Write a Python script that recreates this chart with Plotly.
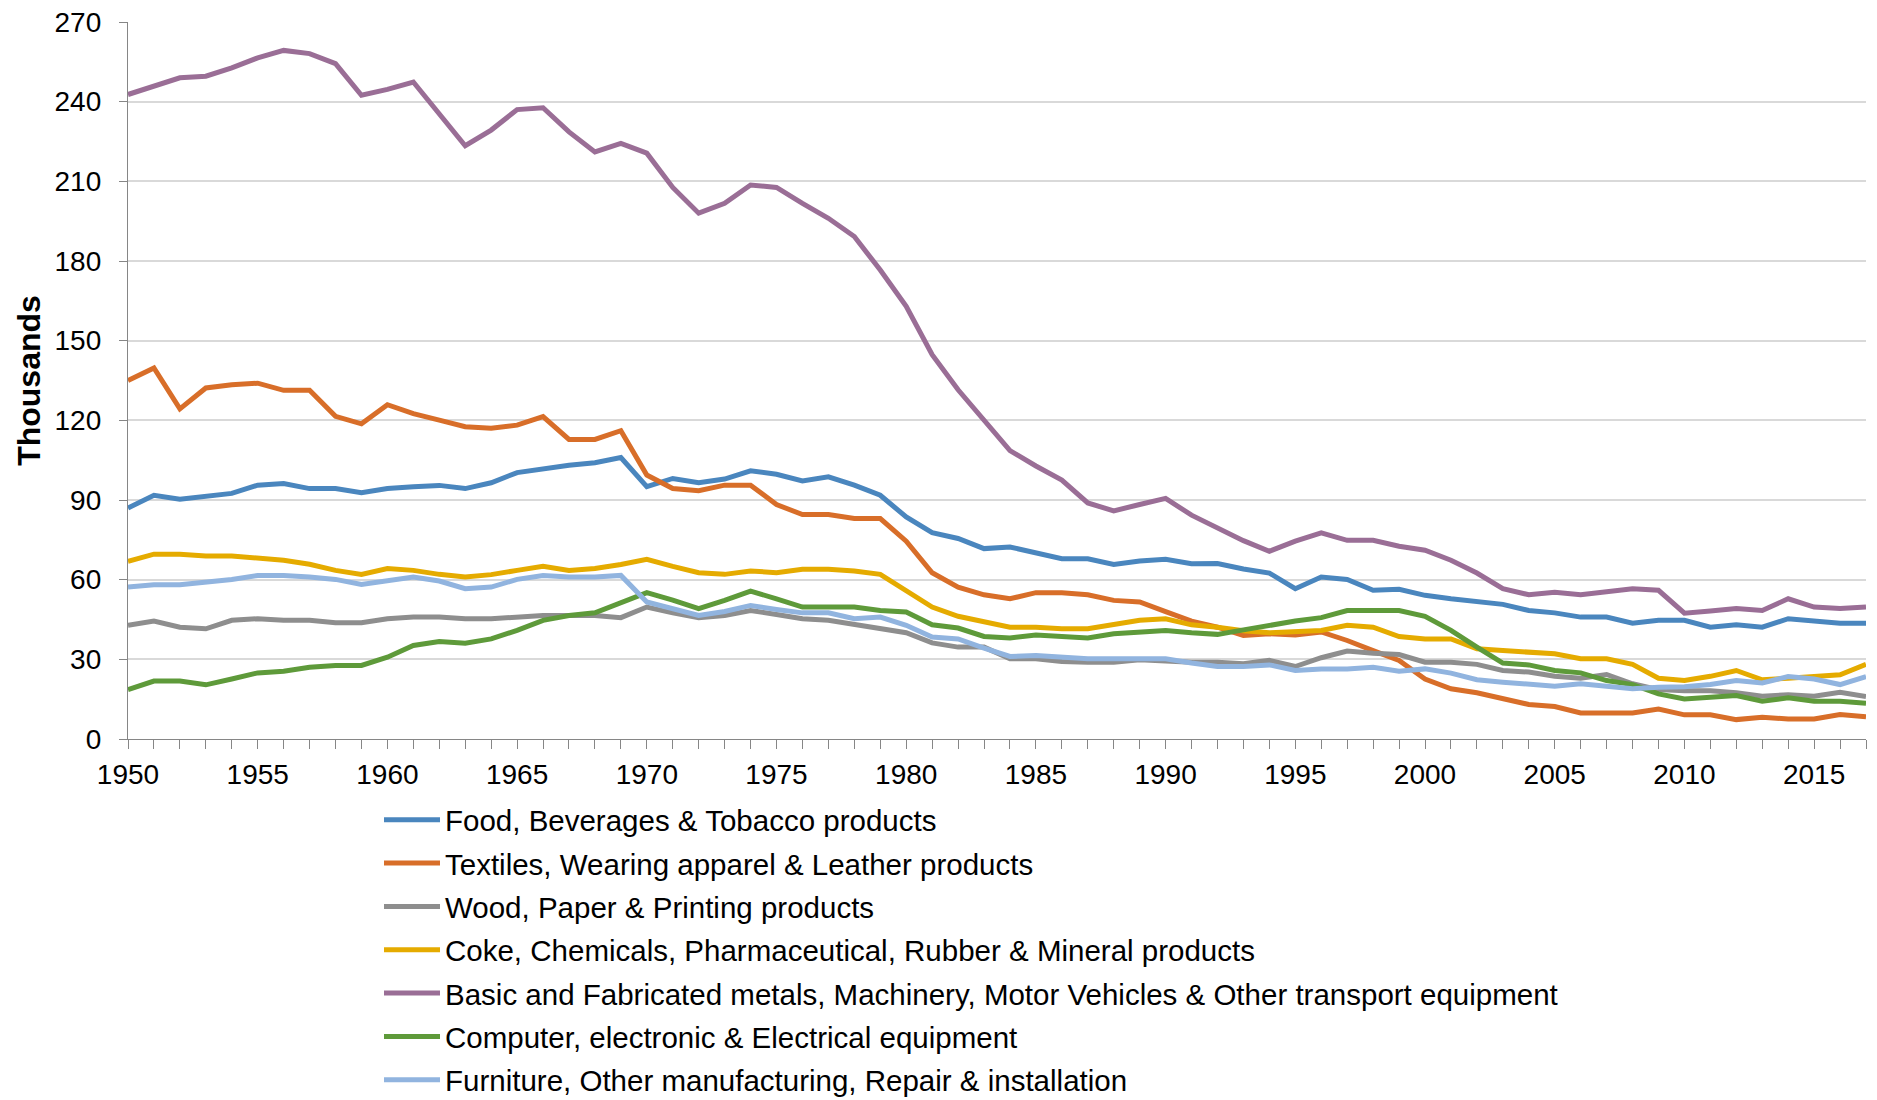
import plotly.graph_objects as go

years = list(range(1950, 2018))

food = [87.0, 91.8, 90.3, 91.2, 92.5, 95.6, 96.2, 94.3, 94.3, 92.7,
        94.3, 95.0, 95.5, 94.3, 96.5, 100.3, 101.9, 103.1, 104.0, 106.0,
        95.0, 98.1, 96.5, 97.9, 101.0, 99.7, 97.2, 98.7, 95.6, 91.8,
        83.6, 77.7, 75.5, 71.7, 72.3, 70.2, 67.9, 67.9, 65.7, 67.0,
        67.7, 66.0, 66.1, 64.0, 62.5, 56.6, 61.0, 60.1, 56.0, 56.4,
        54.1, 52.8, 51.6, 50.7, 48.4, 47.5, 45.9, 45.9, 43.6, 44.7,
        44.7, 42.1, 43.0, 42.1, 45.3, 44.4, 43.6, 43.6]

textiles = [135.0, 139.7, 124.3, 132.2, 133.4, 134.0, 131.3, 131.3, 121.5, 118.7,
            125.9, 122.5, 120.1, 117.6, 117.0, 118.2, 121.4, 112.8, 112.8, 116.1,
            99.4, 94.3, 93.5, 95.6, 95.6, 88.3, 84.5, 84.5, 83.0, 83.0,
            74.5, 62.6, 57.2, 54.3, 52.8, 55.1, 55.1, 54.3, 52.2, 51.6,
            48.0, 44.4, 42.1, 39.0, 39.6, 39.2, 40.3, 37.1, 33.3, 29.6,
            22.6, 18.9, 17.4, 15.1, 13.0, 12.2, 9.8, 9.8, 9.8, 11.3,
            9.1, 9.1, 7.3, 8.2, 7.5, 7.5, 9.2, 8.4]

wood = [42.8, 44.4, 42.1, 41.5, 44.7, 45.3, 44.7, 44.7, 43.8, 43.8,
        45.3, 45.9, 45.9, 45.3, 45.3, 45.9, 46.5, 46.5, 46.5, 45.7,
        49.7, 47.5, 45.7, 46.5, 48.4, 46.9, 45.3, 44.7, 43.1, 41.5,
        40.0, 36.2, 34.6, 34.6, 30.2, 30.2, 29.2, 28.9, 28.9, 29.8,
        29.2, 28.9, 28.9, 28.3, 29.6, 27.3, 30.6, 33.1, 32.3, 31.8,
        28.9, 28.9, 28.1, 25.8, 25.2, 23.6, 22.9, 24.3, 20.8, 18.6,
        18.2, 18.2, 17.4, 16.1, 16.7, 16.1, 17.6, 16.0]

coke = [66.9, 69.6, 69.6, 68.9, 68.9, 68.2, 67.3, 65.8, 63.5, 62.0,
        64.2, 63.5, 62.0, 61.0, 61.9, 63.5, 65.0, 63.5, 64.2, 65.7,
        67.7, 65.0, 62.6, 62.0, 63.3, 62.6, 63.9, 63.9, 63.3, 62.0,
        55.7, 49.7, 46.2, 44.0, 42.1, 42.1, 41.5, 41.5, 43.0, 44.7,
        45.3, 43.0, 42.1, 40.8, 40.0, 40.6, 40.9, 42.8, 42.1, 38.6,
        37.7, 37.7, 34.0, 33.3, 32.7, 32.1, 30.2, 30.2, 28.1, 22.9,
        22.0, 23.6, 25.8, 22.3, 22.9, 23.5, 24.2, 28.1]

metals = [242.7, 245.8, 249.0, 249.6, 252.7, 256.5, 259.3, 258.1, 254.3, 242.4,
          244.6, 247.4, 235.5, 223.4, 229.3, 237.0, 237.7, 228.6, 221.1, 224.3,
          220.6, 207.7, 198.0, 201.7, 208.6, 207.7, 201.7, 196.1, 189.2, 176.6,
          162.9, 144.7, 131.5, 120.3, 108.6, 102.8, 97.5, 88.9, 85.9, 88.3,
          90.6, 84.3, 79.5, 74.7, 70.7, 74.5, 77.6, 74.8, 74.8, 72.6,
          71.1, 67.3, 62.5, 56.6, 54.3, 55.3, 54.3, 55.3, 56.6, 56.0,
          47.4, 48.2, 49.1, 48.4, 52.8, 49.7, 49.1, 49.7]

computer = [18.6, 21.8, 21.8, 20.4, 22.6, 24.9, 25.5, 27.0, 27.7, 27.7,
            30.8, 35.2, 36.7, 36.1, 37.7, 40.9, 44.7, 46.5, 47.5, 51.2,
            55.1, 52.3, 49.1, 52.2, 55.7, 52.8, 49.7, 49.7, 49.7, 48.4,
            47.8, 43.0, 41.8, 38.6, 38.0, 39.2, 38.6, 38.0, 39.6, 40.3,
            40.9, 40.0, 39.4, 41.1, 42.8, 44.4, 45.7, 48.4, 48.4, 48.4,
            46.2, 40.9, 34.6, 28.6, 27.9, 25.8, 24.9, 22.0, 20.5, 17.0,
            15.1, 15.7, 16.4, 14.2, 15.5, 14.2, 14.2, 13.5]

furniture = [57.2, 58.1, 58.1, 58.9, 60.1, 61.6, 61.6, 61.0, 60.1, 58.2,
             59.7, 61.0, 59.5, 56.6, 57.2, 60.1, 61.6, 61.0, 61.0, 61.6,
             51.6, 49.1, 46.5, 48.0, 50.3, 48.8, 47.5, 47.5, 45.3, 45.9,
             42.8, 38.4, 37.7, 34.2, 31.1, 31.4, 30.8, 30.2, 30.2, 30.2,
             30.2, 28.6, 27.3, 27.3, 27.9, 25.8, 26.4, 26.4, 27.0, 25.5,
             26.4, 24.8, 22.3, 21.4, 20.8, 19.9, 20.8, 19.9, 18.9, 19.5,
             19.7, 20.5, 22.0, 21.1, 23.5, 22.6, 20.5, 23.5]

series_names = [
    "Food, Beverages & Tobacco products",
    "Textiles, Wearing apparel & Leather products",
    "Wood, Paper & Printing products",
    "Coke, Chemicals, Pharmaceutical, Rubber & Mineral products",
    "Basic and Fabricated metals, Machinery, Motor Vehicles & Other transport equipment",
    "Computer, electronic & Electrical equipment",
    "Furniture, Other manufacturing, Repair & installation",
]
series_values = [food, textiles, wood, coke, metals, computer, furniture]
colors = ["#4A86BE", "#D86E29", "#8E8E8E", "#E5AB00", "#9A6E96", "#5E9A3A", "#91B4DF"]

x_tick_labels = [str(y) for y in range(1950, 2016, 5)]
y_tick_vals = list(range(0, 271, 30))

FONT = "Arial, Liberation Sans, sans-serif"

fig = go.Figure()
for name, vals, col in zip(series_names, series_values, colors):
    fig.add_trace(go.Scatter(x=years, y=vals, name=name, mode="lines",
                             line=dict(color=col, width=5), legendgroup=name))

# figure geometry (page body adds an 8px offset)
L, R, T, B = 120, 19, 14, 369
PW = 1877 - L - R
PH = 1100 - T - B
plot_bottom = 1100 - B

axis_col = "#868686"
fig.update_layout(
    width=1877, height=1100,
    margin=dict(l=L, r=R, t=T, b=B, autoexpand=False),
    paper_bgcolor="white", plot_bgcolor="white",
    font=dict(family=FONT, size=28, color="black"),
    showlegend=True,
    legend=dict(xref="paper", yref="paper", x=(371 - L) / PW, y=-(786 - plot_bottom) / PH,
                xanchor="left", yanchor="top", font=dict(size=29.5, family=FONT),
                itemwidth=56, tracegroupgap=2, bgcolor="rgba(0,0,0,0)"),
    xaxis=dict(range=[1950, 2017], tickmode="array",
               tickvals=[int(t) for t in x_tick_labels], ticktext=x_tick_labels,
               ticks="outside", ticklen=9, tickcolor=axis_col, tickwidth=1.3,
               showline=True, linecolor=axis_col, linewidth=1.3,
               showgrid=False, zeroline=False, tickangle=0,
               ticklabeloverflow="allow",
               minor=dict(dtick=1, tick0=1950, ticks="outside", ticklen=9,
                          tickcolor=axis_col, tickwidth=1.3, showgrid=False),
               tickfont=dict(size=28, family=FONT), ticklabelstandoff=1),
    yaxis=dict(range=[0, 270], tickmode="array", tickvals=y_tick_vals,
               ticks="outside", ticklen=8, tickcolor=axis_col, tickwidth=1.3,
               showline=True, linecolor=axis_col, linewidth=1.3,
               showgrid=True, gridcolor="#D9D9D9", gridwidth=1.5, zeroline=False,
               ticklabeloverflow="allow",
               tickfont=dict(size=28, family=FONT), ticklabelstandoff=12,
               title=dict(text="<b>Thousands</b>", font=dict(size=32, family=FONT),
                          standoff=4)),
)

fig.write_html("out.html")
